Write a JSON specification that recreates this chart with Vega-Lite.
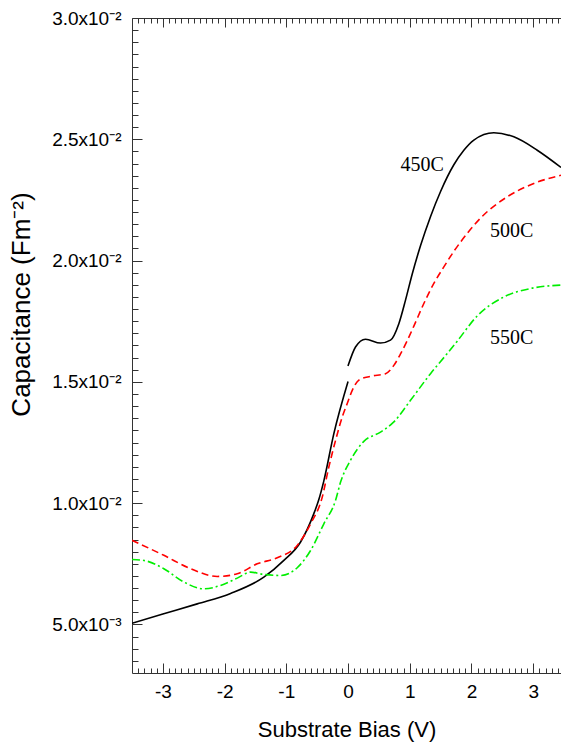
{
  "$schema": "https://vega.github.io/schema/vega-lite/v6.json",
  "autosize": "none",
  "padding": {"left": 132, "top": 18, "right": 0, "bottom": 70},
  "width": 429,
  "height": 655,
  "background": "white",
  "config": {
    "view": {"stroke": null},
    "axis": {"grid": false, "domainColor": "#333", "tickColor": "#333", "labelColor": "black", "titleColor": "black", "labelFont": "Liberation Sans", "titleFont": "Liberation Sans", "labelFontSize": 19, "titleFontSize": 22, "titleFontWeight": "normal"}
  },
  "datasets": {
    "curves": [
      {"s": "450C", "seg": "a", "bias": -3.5, "cap": 0.00505},
      {"s": "450C", "seg": "a", "bias": -3.0, "cap": 0.00543},
      {"s": "450C", "seg": "a", "bias": -2.443, "cap": 0.00585},
      {"s": "450C", "seg": "a", "bias": -1.903, "cap": 0.00628},
      {"s": "450C", "seg": "a", "bias": -1.364, "cap": 0.00695},
      {"s": "450C", "seg": "a", "bias": -1.04, "cap": 0.00764},
      {"s": "450C", "seg": "a", "bias": -0.769, "cap": 0.0084},
      {"s": "450C", "seg": "a", "bias": -0.554, "cap": 0.00957},
      {"s": "450C", "seg": "a", "bias": -0.473, "cap": 0.01015},
      {"s": "450C", "seg": "a", "bias": -0.392, "cap": 0.01092},
      {"s": "450C", "seg": "a", "bias": -0.23, "cap": 0.01287},
      {"s": "450C", "seg": "a", "bias": 0.0, "cap": 0.01502},
      {"s": "450C", "seg": "b", "bias": 0.0, "cap": 0.01566},
      {"s": "450C", "seg": "b", "bias": 0.121, "cap": 0.01644},
      {"s": "450C", "seg": "b", "bias": 0.283, "cap": 0.01676},
      {"s": "450C", "seg": "b", "bias": 0.526, "cap": 0.0166},
      {"s": "450C", "seg": "b", "bias": 0.688, "cap": 0.01672},
      {"s": "450C", "seg": "b", "bias": 0.823, "cap": 0.0174},
      {"s": "450C", "seg": "b", "bias": 0.931, "cap": 0.01837},
      {"s": "450C", "seg": "b", "bias": 1.04, "cap": 0.01945},
      {"s": "450C", "seg": "b", "bias": 1.175, "cap": 0.02062},
      {"s": "450C", "seg": "b", "bias": 1.337, "cap": 0.02182},
      {"s": "450C", "seg": "b", "bias": 1.499, "cap": 0.02285},
      {"s": "450C", "seg": "b", "bias": 1.714, "cap": 0.02395},
      {"s": "450C", "seg": "b", "bias": 1.876, "cap": 0.02455},
      {"s": "450C", "seg": "b", "bias": 2.038, "cap": 0.02497},
      {"s": "450C", "seg": "b", "bias": 2.362, "cap": 0.02527},
      {"s": "450C", "seg": "b", "bias": 2.686, "cap": 0.0251},
      {"s": "450C", "seg": "b", "bias": 3.065, "cap": 0.02455},
      {"s": "450C", "seg": "b", "bias": 3.45, "cap": 0.02384},
      {"s": "500C", "seg": "a", "bias": -3.5, "cap": 0.00847},
      {"s": "500C", "seg": "a", "bias": -2.984, "cap": 0.00785},
      {"s": "500C", "seg": "a", "bias": -2.551, "cap": 0.0073},
      {"s": "500C", "seg": "a", "bias": -2.119, "cap": 0.00698},
      {"s": "500C", "seg": "a", "bias": -1.795, "cap": 0.00709},
      {"s": "500C", "seg": "a", "bias": -1.471, "cap": 0.0075},
      {"s": "500C", "seg": "a", "bias": -1.147, "cap": 0.00775},
      {"s": "500C", "seg": "a", "bias": -0.823, "cap": 0.00826},
      {"s": "500C", "seg": "a", "bias": -0.607, "cap": 0.00915},
      {"s": "500C", "seg": "a", "bias": -0.418, "cap": 0.01025},
      {"s": "500C", "seg": "a", "bias": -0.311, "cap": 0.01149},
      {"s": "500C", "seg": "a", "bias": -0.202, "cap": 0.01259},
      {"s": "500C", "seg": "a", "bias": -0.094, "cap": 0.01355},
      {"s": "500C", "seg": "a", "bias": -0.013, "cap": 0.01411},
      {"s": "500C", "seg": "a", "bias": 0.068, "cap": 0.01465},
      {"s": "500C", "seg": "a", "bias": 0.175, "cap": 0.01507},
      {"s": "500C", "seg": "a", "bias": 0.364, "cap": 0.01523},
      {"s": "500C", "seg": "a", "bias": 0.607, "cap": 0.01534},
      {"s": "500C", "seg": "a", "bias": 0.742, "cap": 0.01568},
      {"s": "500C", "seg": "a", "bias": 0.85, "cap": 0.01615},
      {"s": "500C", "seg": "a", "bias": 0.959, "cap": 0.0167},
      {"s": "500C", "seg": "a", "bias": 1.066, "cap": 0.0173},
      {"s": "500C", "seg": "a", "bias": 1.228, "cap": 0.01823},
      {"s": "500C", "seg": "a", "bias": 1.39, "cap": 0.01906},
      {"s": "500C", "seg": "a", "bias": 1.552, "cap": 0.01974},
      {"s": "500C", "seg": "a", "bias": 1.714, "cap": 0.02038},
      {"s": "500C", "seg": "a", "bias": 1.931, "cap": 0.02112},
      {"s": "500C", "seg": "a", "bias": 2.146, "cap": 0.02175},
      {"s": "500C", "seg": "a", "bias": 2.579, "cap": 0.02263},
      {"s": "500C", "seg": "a", "bias": 3.01, "cap": 0.02318},
      {"s": "500C", "seg": "a", "bias": 3.45, "cap": 0.02352},
      {"s": "550C", "seg": "a", "bias": -3.5, "cap": 0.00768},
      {"s": "550C", "seg": "a", "bias": -3.308, "cap": 0.00764},
      {"s": "550C", "seg": "a", "bias": -2.984, "cap": 0.0073},
      {"s": "550C", "seg": "a", "bias": -2.66, "cap": 0.00675},
      {"s": "550C", "seg": "a", "bias": -2.336, "cap": 0.00647},
      {"s": "550C", "seg": "a", "bias": -2.065, "cap": 0.00661},
      {"s": "550C", "seg": "a", "bias": -1.795, "cap": 0.00691},
      {"s": "550C", "seg": "a", "bias": -1.579, "cap": 0.00716},
      {"s": "550C", "seg": "a", "bias": -1.364, "cap": 0.00706},
      {"s": "550C", "seg": "a", "bias": -1.093, "cap": 0.00702},
      {"s": "550C", "seg": "a", "bias": -0.823, "cap": 0.00734},
      {"s": "550C", "seg": "a", "bias": -0.607, "cap": 0.00805},
      {"s": "550C", "seg": "a", "bias": -0.392, "cap": 0.00915},
      {"s": "550C", "seg": "a", "bias": -0.202, "cap": 0.01012},
      {"s": "550C", "seg": "a", "bias": -0.121, "cap": 0.01087},
      {"s": "550C", "seg": "a", "bias": 0.04, "cap": 0.01177},
      {"s": "550C", "seg": "a", "bias": 0.256, "cap": 0.01255},
      {"s": "550C", "seg": "a", "bias": 0.526, "cap": 0.01293},
      {"s": "550C", "seg": "a", "bias": 0.742, "cap": 0.01335},
      {"s": "550C", "seg": "a", "bias": 1.012, "cap": 0.01424},
      {"s": "550C", "seg": "a", "bias": 1.336, "cap": 0.01534},
      {"s": "550C", "seg": "a", "bias": 1.607, "cap": 0.01617},
      {"s": "550C", "seg": "a", "bias": 1.769, "cap": 0.01668},
      {"s": "550C", "seg": "a", "bias": 2.093, "cap": 0.01772},
      {"s": "550C", "seg": "a", "bias": 2.524, "cap": 0.0185},
      {"s": "550C", "seg": "a", "bias": 2.956, "cap": 0.01885},
      {"s": "550C", "seg": "a", "bias": 3.45, "cap": 0.01899}
    ],
    "labels": [
      {"label": "450C", "bias": 1.199, "cap": 0.02396},
      {"label": "500C", "bias": 2.649, "cap": 0.02123},
      {"label": "550C", "bias": 2.649, "cap": 0.01682}
    ]
  },
  "resolve": {"axis": {"x": "independent", "y": "independent"}},
  "layer": [
    {
      "data": {"name": "curves"},
      "transform": [{"filter": "datum.s === '450C'"}],
      "mark": {"type": "line", "color": "black", "strokeWidth": 1.6, "interpolate": "monotone", "clip": true},
      "encoding": {
        "x": {"field": "bias", "type": "quantitative",
              "scale": {"domain": [-3.5, 3.45], "nice": false, "zero": false},
              "axis": {"orient": "bottom", "values": [-3, -2, -1, 0, 1, 2, 3], "tickSize": -10, "labelPadding": 19, "labelExpr": "'' + datum.value", "title": "Substrate Bias (V)", "titleBaseline": "alphabetic", "titleY": 63}},
        "y": {"field": "cap", "type": "quantitative",
              "scale": {"domain": [0.003, 0.03], "nice": false, "zero": false},
              "axis": {"orient": "left", "values": [0.005, 0.01, 0.015, 0.02, 0.025, 0.03], "tickSize": -10, "labelPadding": 21, "labelExpr": "datum.value < 0.0075 ? '5.0x10⁻³' : format(datum.value * 100, '.1f') + 'x10⁻²'", "title": "Capacitance (Fm⁻²)", "titleFontSize": 26, "titleAngle": 270, "titleAlign": "center", "titleBaseline": "bottom", "titleX": -98, "titleY": 286}},
        "detail": {"field": "seg"}
      }
    },
    {
      "data": {"name": "curves"},
      "transform": [{"filter": "datum.s === '500C'"}],
      "mark": {"type": "line", "color": "#ff0000", "strokeWidth": 1.6, "strokeDash": [7, 4], "interpolate": "monotone", "clip": true},
      "encoding": {
        "x": {"field": "bias", "type": "quantitative",
              "axis": {"orient": "bottom", "values": [-3.4, -3.3, -3.2, -3.1, -2.9, -2.8, -2.7, -2.6, -2.5, -2.4, -2.3, -2.2, -2.1, -1.9, -1.8, -1.7, -1.6, -1.5, -1.4, -1.3, -1.2, -1.1, -0.9, -0.8, -0.7, -0.6, -0.5, -0.4, -0.3, -0.2, -0.1, 0.1, 0.2, 0.3, 0.4, 0.5, 0.6, 0.7, 0.8, 0.9, 1.1, 1.2, 1.3, 1.4, 1.5, 1.6, 1.7, 1.8, 1.9, 2.1, 2.2, 2.3, 2.4, 2.5, 2.6, 2.7, 2.8, 2.9, 3.1, 3.2, 3.3, 3.4], "tickSize": -5, "labels": false, "domain": false, "title": null}},
        "y": {"field": "cap", "type": "quantitative",
              "axis": {"orient": "left", "values": [0.0035, 0.004, 0.0045, 0.0055, 0.006, 0.0065, 0.007, 0.0075, 0.008, 0.0085, 0.009, 0.0095, 0.0105, 0.011, 0.0115, 0.012, 0.0125, 0.013, 0.0135, 0.014, 0.0145, 0.0155, 0.016, 0.0165, 0.017, 0.0175, 0.018, 0.0185, 0.019, 0.0195, 0.0205, 0.021, 0.0215, 0.022, 0.0225, 0.023, 0.0235, 0.024, 0.0245, 0.0255, 0.026, 0.0265, 0.027, 0.0275, 0.028, 0.0285, 0.029, 0.0295], "tickSize": -6, "labels": false, "domain": false, "title": null}}
      }
    },
    {
      "data": {"name": "curves"},
      "transform": [{"filter": "datum.s === '550C'"}],
      "mark": {"type": "line", "color": "#00ee00", "strokeWidth": 1.6, "strokeDash": [8, 3, 2, 3], "interpolate": "monotone", "clip": true},
      "encoding": {
        "x": {"field": "bias", "type": "quantitative",
              "axis": {"orient": "top", "values": [-3, -2, -1, 0, 1, 2, 3], "tickSize": -9, "labels": false, "title": null}},
        "y": {"field": "cap", "type": "quantitative", "axis": null}
      }
    },
    {
      "data": {"name": "labels"},
      "mark": {"type": "text", "font": "Liberation Serif", "fontSize": 20, "align": "center", "baseline": "middle", "color": "black"},
      "encoding": {
        "x": {"field": "bias", "type": "quantitative",
              "axis": {"orient": "top", "values": [-3.4, -3.3, -3.2, -3.1, -2.9, -2.8, -2.7, -2.6, -2.5, -2.4, -2.3, -2.2, -2.1, -1.9, -1.8, -1.7, -1.6, -1.5, -1.4, -1.3, -1.2, -1.1, -0.9, -0.8, -0.7, -0.6, -0.5, -0.4, -0.3, -0.2, -0.1, 0.1, 0.2, 0.3, 0.4, 0.5, 0.6, 0.7, 0.8, 0.9, 1.1, 1.2, 1.3, 1.4, 1.5, 1.6, 1.7, 1.8, 1.9, 2.1, 2.2, 2.3, 2.4, 2.5, 2.6, 2.7, 2.8, 2.9, 3.1, 3.2, 3.3, 3.4], "tickSize": -5, "labels": false, "domain": false, "title": null}},
        "y": {"field": "cap", "type": "quantitative", "axis": null},
        "text": {"field": "label"}
      }
    }
  ]
}
